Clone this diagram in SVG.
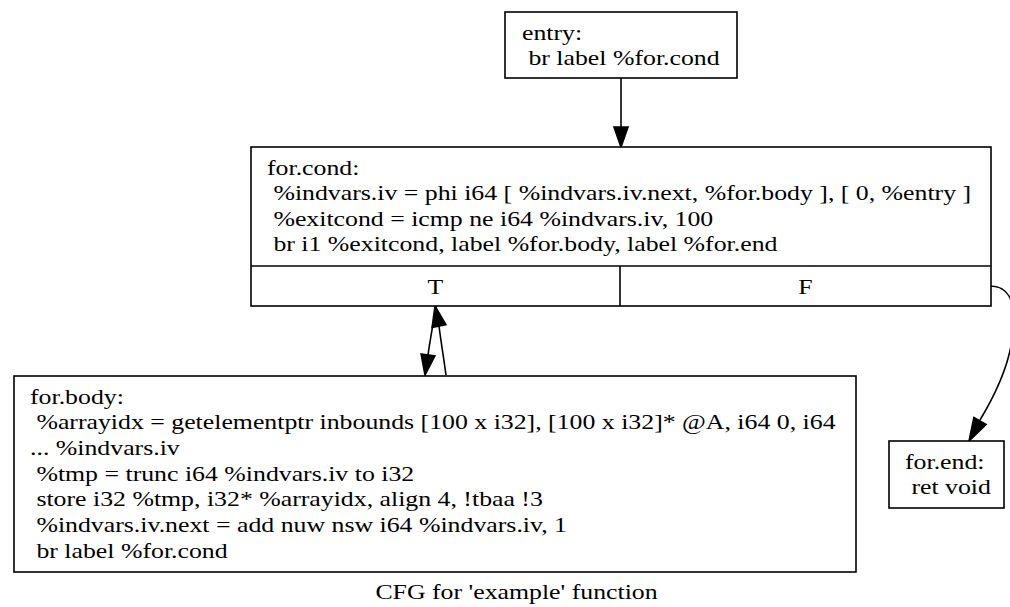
<svg xmlns="http://www.w3.org/2000/svg" width="1010" height="607" viewBox="0 0 1010 607">
<style>
.box{fill:#fff;stroke:#000;stroke-width:1.6}
.t{font-family:"Liberation Serif","Times New Roman",serif;font-size:22px;fill:#000}
.m{text-anchor:middle}
.edge{fill:none;stroke:#000;stroke-width:1.6}
.head{fill:#000;stroke:#000;stroke-width:1.6;stroke-linejoin:miter}
</style>
<rect width="1010" height="607" fill="#fff"/>
<g id="connectors">
<path class="edge" d="M621,78 L621,127"/>
<polygon class="head" points="614,127 628,127 621,147"/>
<path class="edge" d="M436,306 C433,325 430,340 428,355"/>
<polygon class="head" points="421.1,354 434.9,356 425,375"/>
<path class="edge" d="M446,375 C444,360 441,342 439,326"/>
<polygon class="head" points="432.1,327.4 445.9,324.6 435,306"/>
<path class="edge" d="M990,286 C1008,286 1018,300 1012,340 C1008,368 995,395 980,420"/>
<polygon class="head" points="986.1,424.4 973.9,417.6 969,441"/>
</g>
<g id="entry">
<rect class="box" x="505" y="12" width="232" height="66"/>
<text class="t" transform="translate(522,39.5) scale(1.173,1)">entry:</text>
<text class="t" transform="translate(528.4,64.7) scale(1.173,1)">br label %for.cond</text>
</g>
<g id="for.cond">
<rect class="box" x="251" y="147" width="740" height="159"/>
<line class="box" x1="251" y1="266" x2="991" y2="266"/>
<line class="box" x1="620" y1="266" x2="620" y2="306"/>
<text class="t" transform="translate(267,174.5) scale(1.173,1)">for.cond:</text>
<text class="t" transform="translate(273.4,200) scale(1.173,1)">%indvars.iv = phi i64 [ %indvars.iv.next, %for.body ], [ 0, %entry ]</text>
<text class="t" transform="translate(273.4,225.6) scale(1.173,1)">%exitcond = icmp ne i64 %indvars.iv, 100</text>
<text class="t" transform="translate(273.4,251.2) scale(1.173,1)">br i1 %exitcond, label %for.body, label %for.end</text>
<text class="t m" transform="translate(435.5,293.5) scale(1.173,1)">T</text>
<text class="t m" transform="translate(805.5,293.5) scale(1.173,1)">F</text>
</g>
<g id="for.body">
<rect class="box" x="14" y="376" width="842" height="196"/>
<text class="t" transform="translate(30,403.5) scale(1.173,1)">for.body:</text>
<text class="t" transform="translate(36.4,429.1) scale(1.173,1)">%arrayidx = getelementptr inbounds [100 x i32], [100 x i32]* @A, i64 0, i64</text>
<text class="t" transform="translate(30,454.8) scale(1.173,1)">... %indvars.iv</text>
<text class="t" transform="translate(36.4,480.5) scale(1.173,1)">%tmp = trunc i64 %indvars.iv to i32</text>
<text class="t" transform="translate(36.4,506.2) scale(1.173,1)">store i32 %tmp, i32* %arrayidx, align 4, !tbaa !3</text>
<text class="t" transform="translate(36.4,531.9) scale(1.173,1)">%indvars.iv.next = add nuw nsw i64 %indvars.iv, 1</text>
<text class="t" transform="translate(36.4,557.6) scale(1.173,1)">br label %for.cond</text>
</g>
<g id="for.end">
<rect class="box" x="889" y="441" width="115" height="67"/>
<text class="t" transform="translate(905,468.5) scale(1.173,1)">for.end:</text>
<text class="t" transform="translate(911.4,493.8) scale(1.173,1)">ret void</text>
</g>
<g id="caption">
<text class="t m" transform="translate(516.5,598.5) scale(1.173,1)">CFG for 'example' function</text>
</g>
</svg>
